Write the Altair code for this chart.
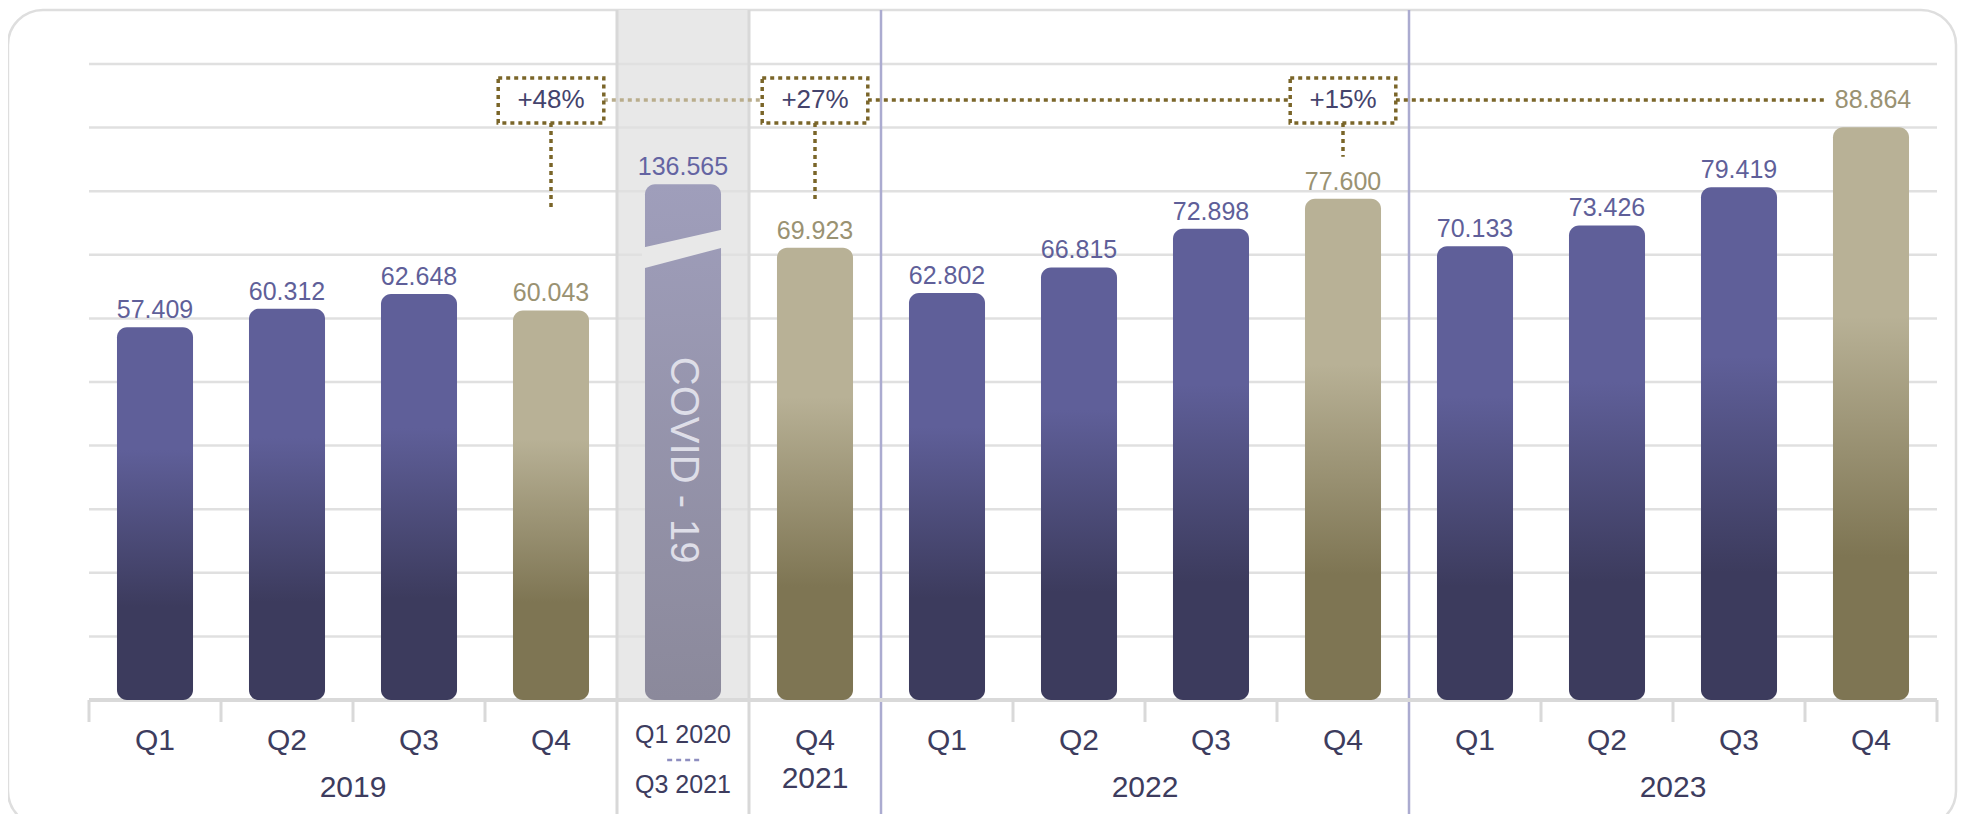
import altair as alt
import pandas as pd

# ---------------- data ----------------
SLOT_KEYS = ["2019 Q1", "2019 Q2", "2019 Q3", "2019 Q4", "Q1 2020 - Q3 2021", "2021 Q4",
             "2022 Q1", "2022 Q2", "2022 Q3", "2022 Q4", "2023 Q1", "2023 Q2", "2023 Q3", "2023 Q4"]
VALUES = [57.409, 60.312, 62.648, 60.043, 136.565, 69.923, 62.802, 66.815, 72.898, 77.600,
          70.133, 73.426, 79.419, 88.864]
KINDS = ["quarter", "quarter", "quarter", "q4", "covid", "q4", "quarter", "quarter", "quarter", "q4",
         "quarter", "quarter", "quarter", "q4"]
TICK_LABELS = ["Q1", "Q2", "Q3", "Q4", "", "Q4", "Q1", "Q2", "Q3", "Q4", "Q1", "Q2", "Q3", "Q4"]
YEAR_LABELS = ["2019", "2021", "2022", "2023"]
YEAR_SPANS = [(0, 4), (5, 6), (6, 10), (10, 14)]
COVID_RANGE = ["Q1 2020", "Q3 2021"]
COVID_TEXT = "COVID - 19"
GROWTH_LABELS = ["+48%", "+27%", "+15%"]
GROWTH_SLOTS = [3, 5, 9]          # Q4 2019, Q4 2021, Q4 2022  -> compared to Q4 2023
CONNECTOR_ENDS = [75.7, 77.3, 84.2]
TARGET_SLOT = 13

# ---------------- layout (data units) ----------------
N = len(SLOT_KEYS)
Y_MIN, Y_MAX = -1.2, 98.8
GRID = [Y_MIN + 10 * k for k in range(11)]
HALF_BAR = 0.288
COVID_CAP = 79.9                   # broken bar drawn height
CARD = dict(x=-0.614, x2=14.144, y=107.3, y2=-21.0)
TICK_END = -4.66
Q_BASE = -9.06
YEAR_BASE = -16.45
YEAR2021_BASE = -15.04
COVID_L1, COVID_DASH, COVID_L2 = -7.96, -10.63, -15.82
LINE_Y = 93.14
BOX_TOP, BOX_BOTTOM = 96.6, 89.53
BOX_HALF = 0.4
LINE_END = 13.15

BLUE_TOP, BLUE_BOT = "#5f5f99", "#3c3b5d"
GOLD_TOP, GOLD_BOT = "#b8b196", "#7e7553"
COVID_TOP, COVID_BOT = "#9f9ebb", "#8b899b"
BAND = "#e8e8e8"
DOT_DARK, DOT_LIGHT = "#7a6529", "#b9ad8c"
FONT = "Liberation Sans"

XS = alt.Scale(domain=[0, N], nice=False, zero=False)
YS = alt.Scale(domain=[Y_MIN, Y_MAX], nice=False, zero=False)


def xq(f):
    return alt.X(f"{f}:Q", scale=XS, axis=None)


def yq(f):
    return alt.Y(f"{f}:Q", scale=YS, axis=None)


def grad(top, bottom, a, b):
    return alt.Gradient(gradient="linear", x1=0, x2=0, y1=0, y2=1,
                        stops=[alt.GradientStop(color=top, offset=0),
                               alt.GradientStop(color=top, offset=a),
                               alt.GradientStop(color=bottom, offset=b),
                               alt.GradientStop(color=bottom, offset=1)])


# ---------------- tables ----------------
bars_df = pd.DataFrame({"slot": SLOT_KEYS, "value": VALUES, "kind": KINDS})
bars_df["center"] = [i + 0.5 for i in range(N)]
bars_df["x1"] = bars_df["center"] - HALF_BAR
bars_df["x2"] = bars_df["center"] + HALF_BAR
bars_df["shown"] = [COVID_CAP if k == "covid" else v for k, v in zip(KINDS, VALUES)]
bars_df["base"] = Y_MIN
bars_df["label"] = [f"{v:.3f}" for v in VALUES]

card = alt.Chart(pd.DataFrame([CARD])).mark_rect(
    fill="white", stroke="#dedede", strokeWidth=2.5, cornerRadius=35
).encode(x=xq("x"), x2="x2", y=yq("y"), y2="y2")

band = alt.Chart(pd.DataFrame({"x": [4], "x2": [5], "y": [CARD["y"]], "y2": [Y_MIN]})).mark_rect(
    fill=BAND).encode(x=xq("x"), x2="x2", y=yq("y"), y2="y2")

grid = alt.Chart(pd.DataFrame({"y": GRID, "x": 0, "x2": N})).mark_rule(
    color="#e0e0e0", strokeWidth=2.5).encode(x=xq("x"), x2="x2", y=yq("y"))

band_edges = alt.Chart(pd.DataFrame({"x": [4, 5], "y": CARD["y"], "y2": CARD["y2"]})).mark_rule(
    color="#d8d8d8", strokeWidth=3).encode(x=xq("x"), y=yq("y"), y2="y2")

year_lines = alt.Chart(pd.DataFrame({"x": [6, 10], "y": CARD["y"], "y2": CARD["y2"]})).mark_rule(
    color="#ababd0", strokeWidth=2.5).encode(x=xq("x"), y=yq("y"), y2="y2")

axis_line = alt.Chart(pd.DataFrame({"x": [0], "x2": [N], "y": [Y_MIN]})).mark_rule(
    color="#d9d9d9", strokeWidth=4).encode(x=xq("x"), x2="x2", y=yq("y"))

tick_pos = [b for b in range(N + 1) if b not in (4, 5, 6, 10)]
ticks = alt.Chart(pd.DataFrame({"x": tick_pos, "y": Y_MIN, "y2": TICK_END})).mark_rule(
    color="#d9d9d9", strokeWidth=3).encode(x=xq("x"), y=yq("y"), y2="y2")


def bar_layer(kind, fill):
    return alt.Chart(bars_df).transform_filter(alt.datum.kind == kind).mark_bar(
        fill=fill, cornerRadius=10).encode(x=xq("x1"), x2="x2", y=yq("shown"), y2="base")


bars_q = bar_layer("quarter", grad(BLUE_TOP, BLUE_BOT, 0.33, 0.75))
bars_g = bar_layer("q4", grad(GOLD_TOP, GOLD_BOT, 0.33, 0.75))
bars_c = bar_layer("covid", grad(COVID_TOP, COVID_BOT, 0.0, 1.0))

gap_df = pd.DataFrame({"x": [4.19, 4.81], "top": [69.9, 72.8], "bottom": [66.6, 70.0]})
gap = alt.Chart(gap_df).mark_area(color=BAND).encode(x=xq("x"), y=yq("top"), y2="bottom")

covid_txt = alt.Chart(pd.DataFrame({"x": [4.5], "y": [36.5], "t": [COVID_TEXT]})).mark_text(
    angle=90, fontSize=40, color="#dedee8", font=FONT, baseline="middle", align="center"
).encode(x=xq("x"), y=yq("y"), text="t:N")

label_color = alt.Color("kind:N", legend=None,
                        scale=alt.Scale(domain=["quarter", "q4", "covid"],
                                        range=["#5f5f99", "#9a9272", "#6464a2"]))
value_labels = alt.Chart(bars_df[bars_df.index != TARGET_SLOT]).mark_text(
    fontSize=25, font=FONT, baseline="alphabetic", dy=-9
).encode(x=xq("center"), y=yq("shown"), text="label:N", color=label_color)

target_label = alt.Chart(bars_df[bars_df.index == TARGET_SLOT].assign(ly=LINE_Y)).mark_text(
    fontSize=25, font=FONT, baseline="middle", dx=2
).encode(x=xq("center"), y=yq("ly"), text="label:N", color=label_color)

# growth annotations
g_df = pd.DataFrame({"label": GROWTH_LABELS, "cx": [s + 0.5 for s in GROWTH_SLOTS],
                     "end": CONNECTOR_ENDS})
g_df["x1"] = g_df["cx"] - BOX_HALF
g_df["x2"] = g_df["cx"] + BOX_HALF
g_df["top"] = BOX_TOP
g_df["bottom"] = BOX_BOTTOM
g_df["ly"] = LINE_Y

seg_x1 = list(g_df["x2"])
seg_x2 = list(g_df["x1"][1:]) + [LINE_END]
seg_df = pd.DataFrame({"x1": seg_x1, "x2": seg_x2, "y": LINE_Y,
                       "col": [DOT_LIGHT, DOT_DARK, DOT_DARK]})

segments = alt.Chart(seg_df).mark_rule(strokeWidth=3.5, strokeDash=[4, 4]).encode(
    x=xq("x1"), x2="x2", y=yq("y"), color=alt.Color("col:N", scale=None))

connectors = alt.Chart(g_df).mark_rule(color=DOT_DARK, strokeWidth=3.5, strokeDash=[4, 4]).encode(
    x=xq("cx"), y=yq("bottom"), y2="end")

boxes = alt.Chart(g_df).mark_rect(fill="white", stroke=DOT_DARK, strokeWidth=3.5,
                                  strokeDash=[4, 4]).encode(
    x=xq("x1"), x2="x2", y=yq("top"), y2="bottom")

box_text = alt.Chart(g_df).mark_text(fontSize=26, font=FONT, color="#44436c",
                                     baseline="middle").encode(
    x=xq("cx"), y=yq("ly"), text="label:N")

# axis texts
q_df = pd.DataFrame({"x": [i + 0.5 for i in range(N)], "t": TICK_LABELS, "y": Q_BASE})
q_df = q_df[q_df["t"] != ""]
q_labels = alt.Chart(q_df).mark_text(fontSize=30, font=FONT, color="#3d3c5e",
                                     baseline="alphabetic").encode(
    x=xq("x"), y=yq("y"), text="t:N")

y_df = pd.DataFrame({"x": [(a + b) / 2 for a, b in YEAR_SPANS], "t": YEAR_LABELS,
                     "y": [YEAR2021_BASE if t == "2021" else YEAR_BASE for t in YEAR_LABELS]})
year_labels = alt.Chart(y_df).mark_text(fontSize=30, font=FONT, color="#3d3c5e",
                                        baseline="alphabetic").encode(
    x=xq("x"), y=yq("y"), text="t:N")

c_df = pd.DataFrame({"x": [4.5, 4.5], "t": COVID_RANGE, "y": [COVID_L1, COVID_L2]})
covid_labels = alt.Chart(c_df).mark_text(fontSize=25, font=FONT, color="#3d3c5e",
                                         baseline="alphabetic").encode(
    x=xq("x"), y=yq("y"), text="t:N")

dash = alt.Chart(pd.DataFrame({"x": [4.38], "x2": [4.645], "y": [COVID_DASH]})).mark_rule(
    color="#8e8ec0", strokeWidth=2.5, strokeDash=[5, 4]).encode(x=xq("x"), x2="x2", y=yq("y"))

chart = alt.layer(
    card, band, grid, band_edges, year_lines, axis_line, ticks,
    bars_q, bars_g, bars_c, gap, covid_txt, value_labels,
    segments, connectors, boxes, box_text, target_label,
    q_labels, year_labels, covid_labels, dash
).properties(
    width=1848, height=636,
    padding={"left": 81, "top": 56, "right": 24, "bottom": 114},
    autosize=alt.AutoSizeParams(type="none"),
).configure_view(stroke=None)

chart.save("out.html", embed_options={"renderer": "svg", "actions": False})
